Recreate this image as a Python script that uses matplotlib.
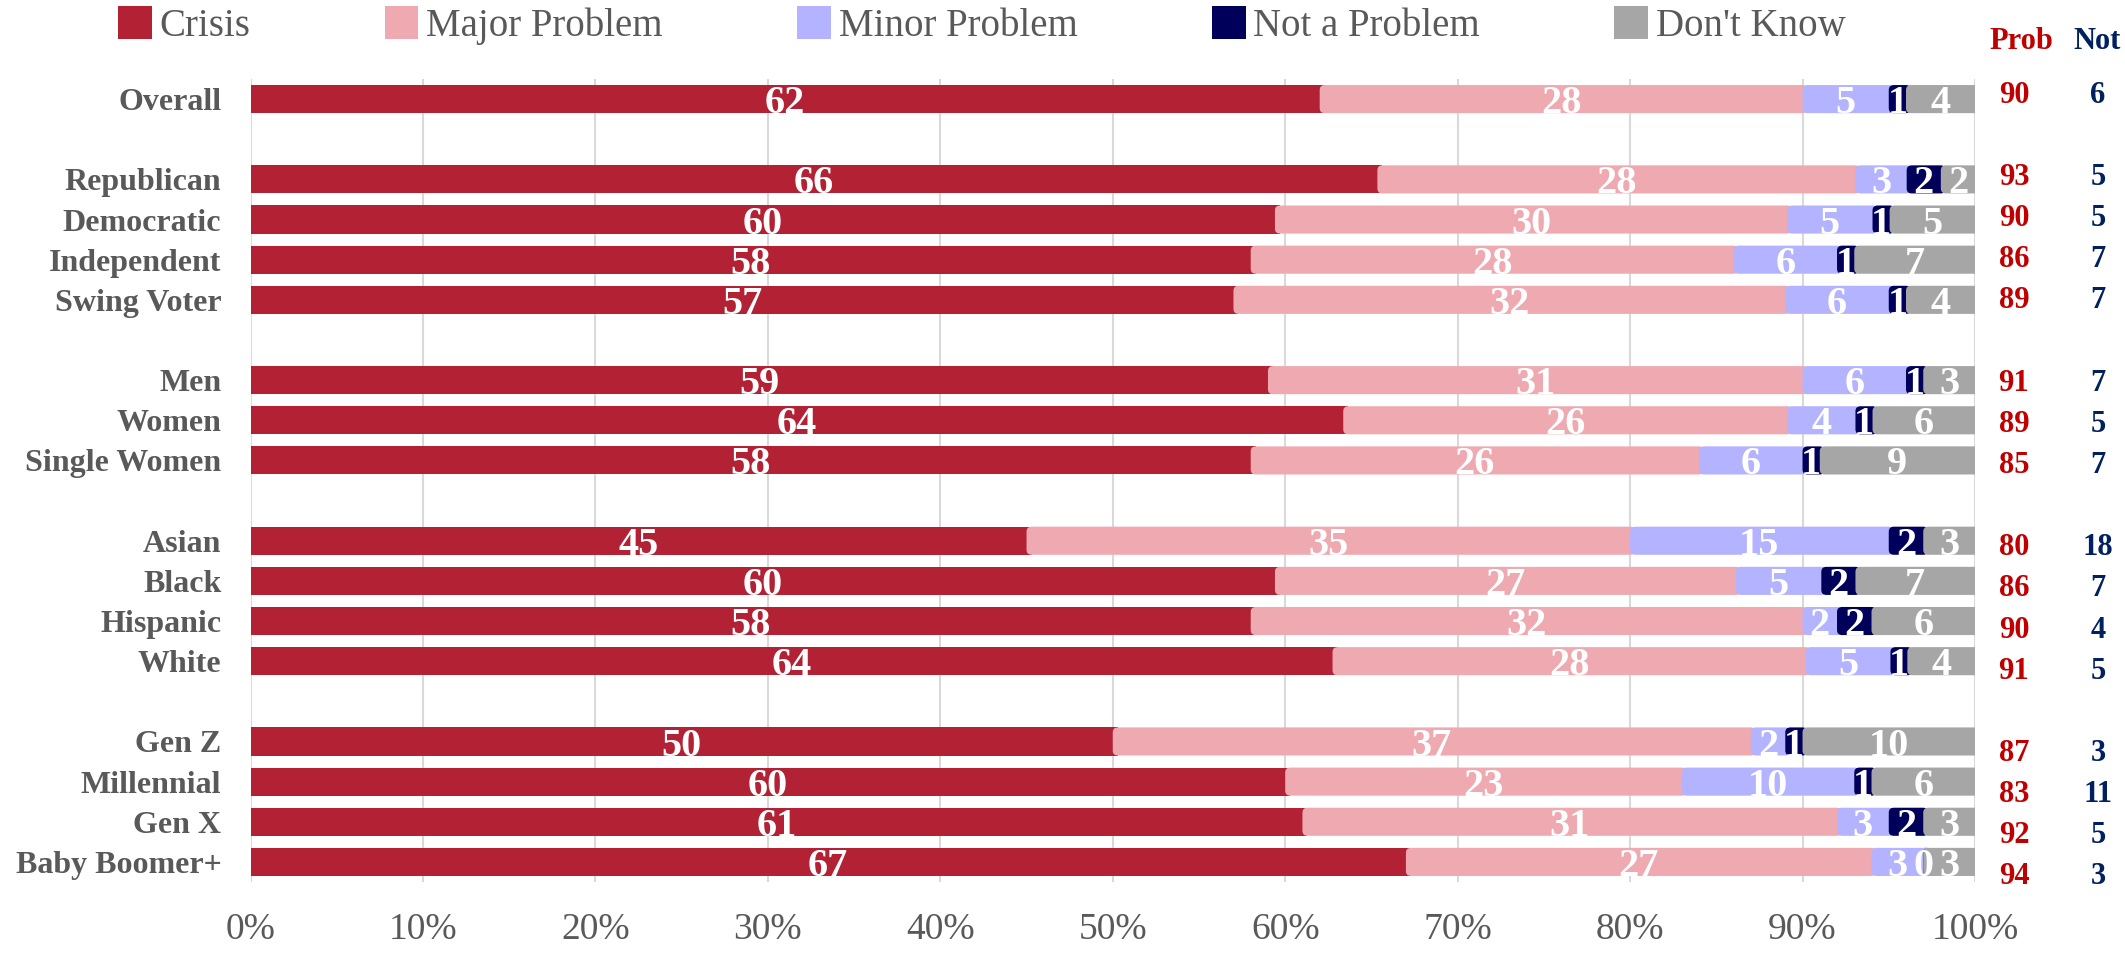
import numpy as np
import matplotlib
matplotlib.use('Agg')
import matplotlib.pyplot as plt
from matplotlib.patches import Patch, FancyBboxPatch

plt.rcParams['font.family'] = ['Liberation Serif', 'DejaVu Serif']

# groups of rows, a blank row between groups
groups = [
    ['Overall'],
    ['Republican', 'Democratic', 'Independent', 'Swing Voter'],
    ['Men', 'Women', 'Single Women'],
    ['Asian', 'Black', 'Hispanic', 'White'],
    ['Gen Z', 'Millennial', 'Gen X', 'Baby Boomer+'],
]

series_names = ['Crisis', 'Major Problem', 'Minor Problem', 'Not a Problem', "Don't Know"]
colors = ['#B22234', '#EEAAB0', '#B3B3FF', '#00005A', '#A6A6A6']

crisis = [62, 66, 60, 58, 57, 59, 64, 58, 45, 60, 58, 64, 50, 60, 61, 67]
major = [28, 28, 30, 28, 32, 31, 26, 26, 35, 27, 32, 28, 37, 23, 31, 27]
minor = [5, 3, 5, 6, 6, 6, 4, 6, 15, 5, 2, 5, 2, 10, 3, 3]
not_problem = [1, 2, 1, 1, 1, 1, 1, 1, 2, 2, 2, 1, 1, 1, 2, 0]
dont_know = [4, 2, 5, 7, 4, 3, 6, 9, 3, 7, 6, 4, 10, 6, 3, 3]

prob_total = [90, 93, 90, 86, 89, 91, 89, 85, 80, 86, 90, 91, 87, 83, 92, 94]
not_total = [6, 5, 5, 7, 7, 7, 5, 7, 18, 7, 4, 5, 3, 11, 5, 3]

# row positions
labels = []
pos = []
y = 0
for g in groups:
    for c in g:
        labels.append(c)
        pos.append(y)
        y += 1
    y += 1
pos = np.array(pos, dtype=float)

vals = np.array([crisis, major, minor, not_problem, dont_know], dtype=float)
shares = vals / vals.sum(axis=0) * 100  # bars fill to 100%

fig = plt.figure(figsize=(21.25, 9.59), dpi=100)
ax = fig.add_axes([0.1179, 0.0803, 0.8115, 0.8373])

r = 0.29       # corner radius (x units)
aspect = 0.43  # keeps the corner round on screen
left = np.zeros(len(labels))
for i, (name, share, raw, color) in enumerate(zip(series_names, shares, vals, colors)):
    # each segment runs a little under the next one, which has rounded left corners
    bars = ax.barh(pos, share + r, left=left, height=0.7, color=color, zorder=3)
    if i > 0:
        for b in bars:
            b.set_visible(False)
            ax.add_patch(FancyBboxPatch((b.get_x(), b.get_y()), b.get_width(), b.get_height(),
                                        boxstyle=f'round,pad=0,rounding_size={r}',
                                        mutation_aspect=aspect, facecolor=color,
                                        edgecolor='none', zorder=3))
    for b, s, v in zip(bars, share, raw):
        ax.text(b.get_x() + s / 2, b.get_y() + b.get_height(), str(int(v)),
                ha='center', va='baseline', color='white', fontsize=29,
                fontweight='bold', zorder=5)
    left += share

ax.set_xlim(0, 100)
ax.set_ylim(pos.max() + 0.5, -0.5)
ax.set_xticks(range(0, 101, 10))
ax.set_xticklabels([f'{v}%' for v in range(0, 101, 10)])
ax.set_yticks(pos)
ax.set_yticklabels(labels, fontweight='bold')
ax.tick_params(axis='x', length=0, pad=22, labelsize=27, labelcolor='#595959')
ax.tick_params(axis='y', length=0, pad=21, labelsize=23, labelcolor='#595959')
ax.grid(axis='x', color='#D9D9D9', linewidth=1.5, zorder=0)
for s in ax.spines.values():
    s.set_visible(False)

# right hand totals
tr = ax.get_yaxis_transform()
for p, a, b in zip(pos, prob_total, not_total):
    yy = p * 1.025 - 0.1
    ax.text(1.0226, yy, str(a), transform=tr, ha='center', va='center',
            color='#C00000', fontsize=22, fontweight='bold', clip_on=False)
    ax.text(1.0713, yy, str(b), transform=tr, ha='center', va='center',
            color='#002060', fontsize=22, fontweight='bold', clip_on=False)
fig.text(0.951, 0.957, 'Prob', ha='center', va='center', color='#C00000',
         fontsize=22, fontweight='bold')
fig.text(0.987, 0.957, 'Not', ha='center', va='center', color='#002060',
         fontsize=22, fontweight='bold')

handles = [Patch(facecolor=c, edgecolor='none') for c in colors]
leg = fig.legend(handles, series_names, loc='center left', bbox_to_anchor=(118 / 2125, 0.9734),
                 ncol=5, frameon=False, fontsize=28, borderpad=0, borderaxespad=0,
                 handlelength=0.87, handleheight=0.9, handletextpad=0.2, columnspacing=3.45)
for t in leg.get_texts():
    t.set_color('#595959')

fig.savefig('out.png', dpi=100)
